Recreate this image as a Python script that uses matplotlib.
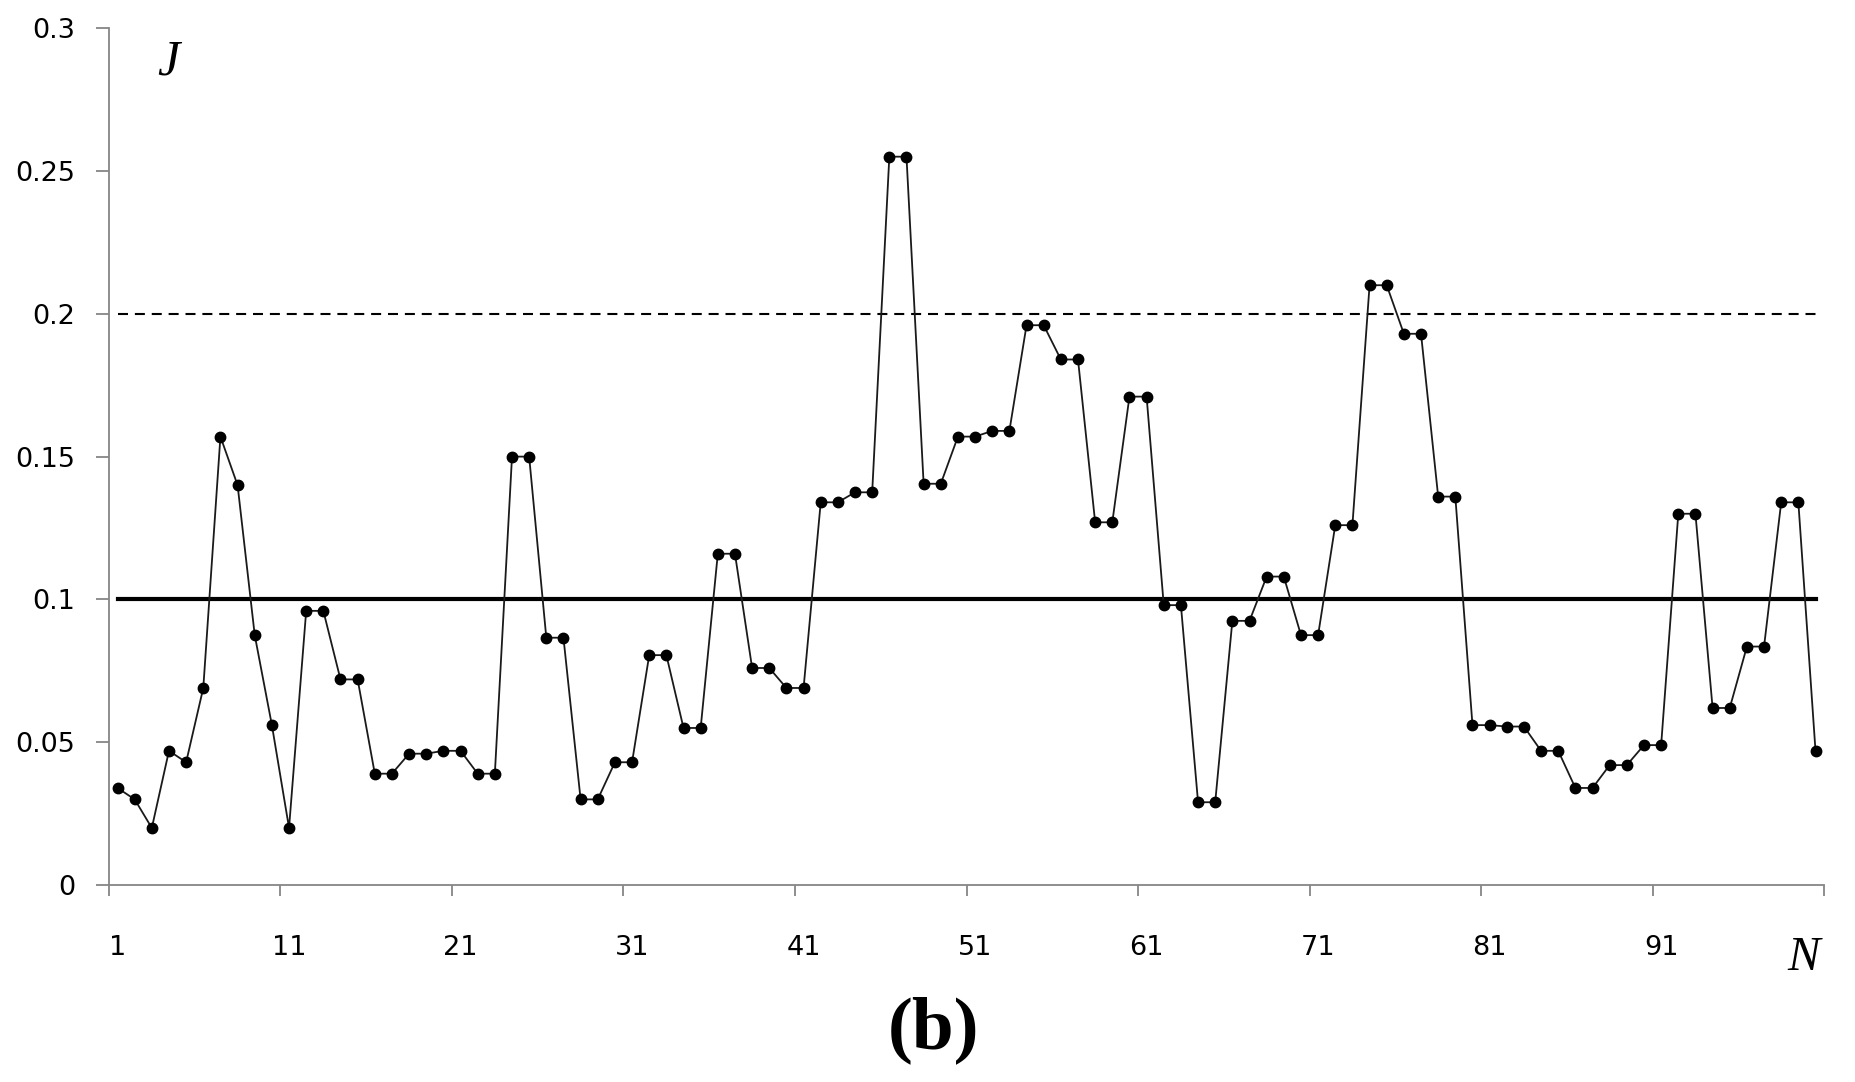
import matplotlib.pyplot as plt
import numpy as np

# J values for N = 1..100
j_values = [
    0.034, 0.030, 0.020, 0.047, 0.043, 0.069, 0.157, 0.140, 0.0875, 0.056,
    0.020, 0.096, 0.096, 0.072, 0.072, 0.039, 0.039, 0.046, 0.046, 0.047,
    0.047, 0.039, 0.039, 0.150, 0.150, 0.0866, 0.0866, 0.030, 0.030, 0.043,
    0.043, 0.0805, 0.0805, 0.055, 0.055, 0.116, 0.116, 0.076, 0.076, 0.069,
    0.069, 0.134, 0.134, 0.1375, 0.1375, 0.255, 0.255, 0.1405, 0.1405, 0.157,
    0.157, 0.159, 0.159, 0.196, 0.196, 0.184, 0.184, 0.127, 0.127, 0.171,
    0.171, 0.098, 0.098, 0.029, 0.029, 0.0925, 0.0925, 0.108, 0.108, 0.0875,
    0.0875, 0.126, 0.126, 0.210, 0.210, 0.193, 0.193, 0.136, 0.136, 0.056,
    0.056, 0.0555, 0.0555, 0.047, 0.047, 0.034, 0.034, 0.042, 0.042, 0.049,
    0.049, 0.130, 0.130, 0.062, 0.062, 0.0835, 0.0835, 0.134, 0.134, 0.047,
]
n_values = np.arange(1, len(j_values) + 1)

threshold_lo = 0.1
threshold_hi = 0.2

y_ticks = [0, 0.05, 0.1, 0.15, 0.2, 0.25, 0.3]
y_tick_labels = ['0', '0.05', '0.1', '0.15', '0.2', '0.25', '0.3']
x_tick_labels = [1, 11, 21, 31, 41, 51, 61, 71, 81, 91]

axis_grey = '#868686'

fig = plt.figure(figsize=(18.56, 10.82), dpi=100)
ax = fig.add_axes([0.0587, 0.182, 0.9241, 0.792])

# reference lines
ax.plot([n_values[0], n_values[-1]], [threshold_lo, threshold_lo], color='black', lw=3.0, zorder=2)
ax.plot([n_values[0], n_values[-1]], [threshold_hi, threshold_hi], color='black', lw=1.5,
        dashes=(4.8, 3.3), zorder=2)

# data series
ax.plot(n_values, j_values, color='#1a1a1a', lw=1.3, marker='o', markersize=7.5,
        markerfacecolor='black', markeredgecolor='black', zorder=3)

ax.set_xlim(0.5, len(j_values) + 0.5)
ax.set_ylim(0, 0.3)

for side in ['top', 'right']:
    ax.spines[side].set_visible(False)
for side in ['left', 'bottom']:
    ax.spines[side].set_color(axis_grey)
    ax.spines[side].set_linewidth(1.3)

ax.set_yticks(y_ticks)
ax.set_yticklabels(y_tick_labels)
ax.tick_params(axis='y', direction='out', length=9.5, width=1.3, color=axis_grey,
               labelsize=19.5, pad=15)

# major x ticks sit between categories, labels under every 10th point
ax.set_xticks(np.arange(0.5, len(j_values) + 1, 10))
ax.set_xticklabels([])
ax.tick_params(axis='x', which='major', direction='out', length=8, width=1.3, color=axis_grey)
ax.set_xticks(x_tick_labels, minor=True)
ax.set_xticklabels([str(v) for v in x_tick_labels], minor=True)
ax.tick_params(axis='x', which='minor', length=0, labelsize=19.5, pad=36)

ax.text(0.028, 0.987, 'J', transform=ax.transAxes, fontsize=36, style='italic',
        family='Liberation Serif', va='top', ha='left')
ax.text(0.988, -0.085, 'N', transform=ax.transAxes, fontsize=35, style='italic',
        family='Liberation Serif', va='center', ha='center')

fig.text(0.503, 0.048, '(b)', fontsize=54, fontweight='bold', family='Liberation Serif',
         ha='center', va='center')

fig.savefig('out.png', dpi=100, facecolor='white')
